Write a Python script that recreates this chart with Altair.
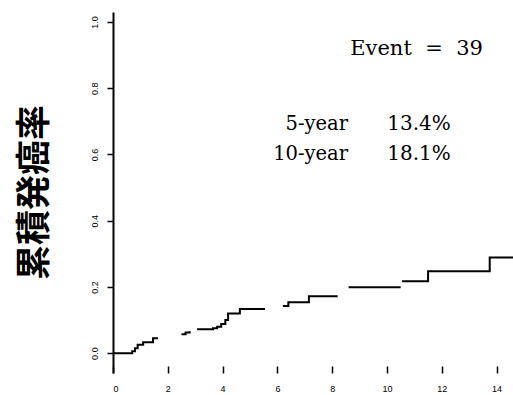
import altair as alt
import pandas as pd

# Step curve (broken into the visible pieces)
seg_ids = [1]*7 + [2]*3 + [3]*8 + [4]*4 + [5]*2 + [6]*4
times = [0.00, 0.70, 0.80, 0.90, 1.10, 1.46, 1.64,
         2.50, 2.65, 2.80,
         3.07, 3.65, 3.80, 3.95, 4.10, 4.20, 4.63, 5.55,
         6.20, 6.40, 7.15, 8.20,
         8.60, 10.50,
         10.55, 11.50, 13.75, 14.60]
cuminc = [0.000, 0.006, 0.015, 0.025, 0.033, 0.045, 0.045,
          0.057, 0.062, 0.066,
          0.072, 0.075, 0.080, 0.088, 0.100, 0.120, 0.133, 0.133,
          0.142, 0.154, 0.172, 0.172,
          0.199, 0.199,
          0.217, 0.247, 0.289, 0.289]

x_ticks = [0, 2, 4, 6, 8, 10, 12, 14]
y_ticks = [0.0, 0.2, 0.4, 0.6, 0.8, 1.0]

event_text = ["Event\u00a0\u00a0=\u00a0\u00a039"]
year_labels = ["5-year", "10-year"]
year_values = ["13.4%", "18.1%"]

curve = pd.DataFrame({"seg": seg_ids, "t": times, "p": cuminc})
ev_df = pd.DataFrame({"t": [13.5], "p": [0.90], "txt": event_text})
lab_df = pd.DataFrame({"t": [8.58, 8.58], "p": [0.673, 0.583], "txt": year_labels})
val_df = pd.DataFrame({"t": [11.17, 11.17], "p": [0.673, 0.583], "txt": year_values})

xs = alt.Scale(domain=[0, 14.6], nice=False, zero=False)
ys = alt.Scale(domain=[-0.06, 1.03], nice=False, zero=False)

line = alt.Chart(curve).mark_line(
    interpolate="step-after", color="black", strokeWidth=2, clip=True
).encode(
    x=alt.X("t:Q", scale=xs, axis=alt.Axis(
        values=x_ticks, domain=False, tickSize=7, tickWidth=1.5, tickColor="black",
        offset=-7, labelPadding=11, labelFontSize=9, labelFont="Liberation Sans",
        labelColor="black", grid=False, title=None)),
    y=alt.Y("p:Q", scale=ys, axis=alt.Axis(
        values=y_ticks, format=".1f", domain=True, domainColor="black", domainWidth=2,
        tickSize=6, tickWidth=1.5, tickColor="black", labelAngle=-90, labelPadding=8,
        labelFontSize=9, labelFont="Liberation Sans", labelColor="black", grid=False,
        title="累積発癌率", titleAngle=-90, titleX=-79, titleY=180,
        titleAlign="center", titleBaseline="middle", titleFontSize=35,
        titleFontWeight="bold", titleFont="Noto Sans CJK JP", titleColor="black")),
    detail="seg:N",
)

ev = alt.Chart(ev_df).mark_text(
    align="right", baseline="alphabetic", font="DejaVu Serif", fontSize=21, color="black"
).encode(x=alt.X("t:Q", scale=xs), y=alt.Y("p:Q", scale=ys), text="txt:N")

labs = alt.Chart(lab_df).mark_text(
    align="right", baseline="alphabetic", font="DejaVu Serif", fontSize=19.5, color="black"
).encode(x=alt.X("t:Q", scale=xs), y=alt.Y("p:Q", scale=ys), text="txt:N")

vals = alt.Chart(val_df).mark_text(
    align="center", baseline="alphabetic", font="DejaVu Serif", fontSize=20, color="black"
).encode(x=alt.X("t:Q", scale=xs), y=alt.Y("p:Q", scale=ys), text="txt:N")

chart = alt.layer(line, ev, labs, vals).properties(
    width=400, height=361,
    autosize=alt.AutoSizeParams(type="none"),
    padding={"left": 113, "top": 12, "right": 0, "bottom": 22},
    background="white",
).configure_view(stroke=None)

chart.save("out.html", embed_options={"renderer": "svg", "actions": False})
